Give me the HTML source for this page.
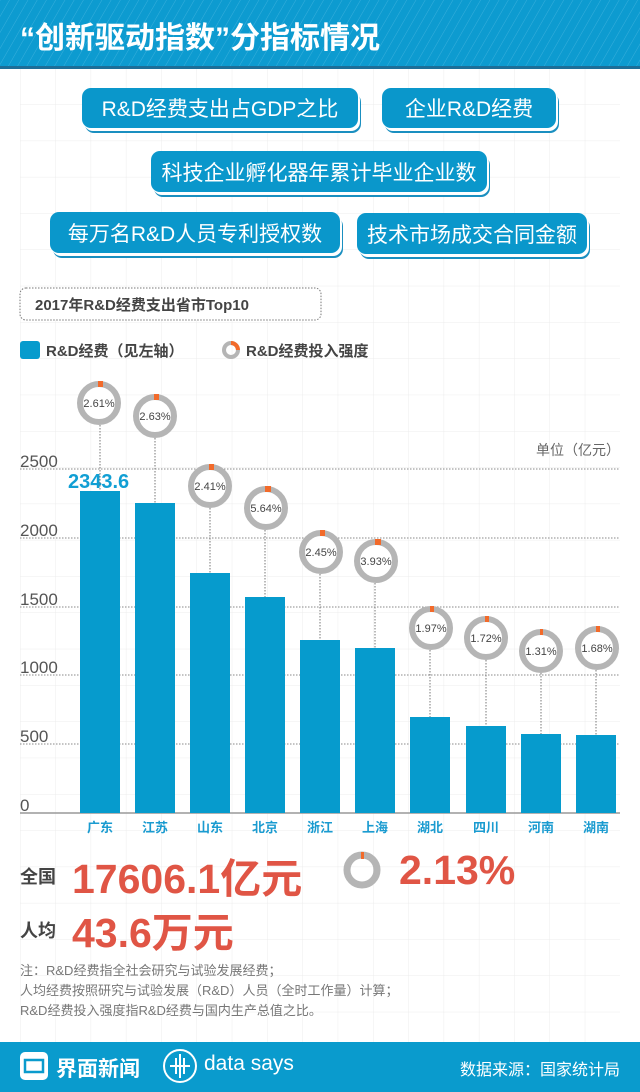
<!DOCTYPE html>
<html><head><meta charset="utf-8"><style>
*{margin:0;padding:0;box-sizing:border-box}
body{width:640px;height:1092px;position:relative;overflow:hidden;background:#fff;font-family:"Liberation Sans","Noto Sans CJK SC",sans-serif}
.abs{position:absolute}
.btn{position:absolute;background:#0a97cb;color:#fff;border-radius:9px;font-size:21px;display:flex;align-items:center;justify-content:center;box-shadow:2px 3px 0 #fff,3px 5px 0 #1a8fc0;white-space:nowrap}
.big{position:absolute;font-size:41px;font-weight:bold;color:#e05545;white-space:nowrap}
</style></head><body>
<svg class="abs" style="left:0;top:0" width="640" height="1092">
<defs>
<pattern id="g" x="20" y="68" width="35.3" height="36.3" patternUnits="userSpaceOnUse">
<path d="M0 0V36.3M0 0H35.3" stroke="#ececec" stroke-width="1" fill="none"/>
</pattern>
<pattern id="st" width="8" height="8" patternUnits="userSpaceOnUse" patternTransform="rotate(30)">
<rect width="8" height="8" fill="#0d9bd0"/><line x1="0" y1="0" x2="0" y2="8" stroke="#38afdc" stroke-width="1"/>
</pattern>
</defs>
<rect x="20" y="68" width="600" height="974" fill="url(#g)"/>
<rect x="0" y="0" width="640" height="67" fill="url(#st)"/>
<rect x="0" y="66" width="640" height="3" fill="#1d6e98"/>
<g stroke="#888" stroke-dasharray="1.5,1.5" stroke-width="1">
<line x1="20" y1="469" x2="620" y2="469"/><line x1="20" y1="538" x2="620" y2="538"/>
<line x1="20" y1="607" x2="620" y2="607"/><line x1="20" y1="675" x2="620" y2="675"/>
<line x1="20" y1="744" x2="620" y2="744"/>
</g>
<line x1="20" y1="813" x2="620" y2="813" stroke="#999" stroke-width="1.5"/>
<g font-size="17" fill="#555">
<text x="20" y="467">2500</text><text x="20" y="536">2000</text><text x="20" y="605">1500</text>
<text x="20" y="673">1000</text><text x="20" y="742">500</text><text x="20" y="811">0</text>
</g>
<text x="620" y="455" font-size="14" fill="#666" text-anchor="end">单位（亿元）</text>
<g fill="#069bcd">
<rect x="80" y="491" width="40" height="322"/><rect x="135" y="503" width="40" height="310"/>
<rect x="190" y="573" width="40" height="240"/><rect x="245" y="597" width="40" height="216"/>
<rect x="300" y="640" width="40" height="173"/><rect x="355" y="648" width="40" height="165"/>
<rect x="410" y="717" width="40" height="96"/><rect x="466" y="726" width="40" height="87"/>
<rect x="521" y="734" width="40" height="79"/><rect x="576" y="735" width="40" height="78"/>
</g>
<text x="68" y="488" font-size="20" font-weight="bold" fill="#119fd4">2343.6</text>
<g font-size="13" font-weight="bold" fill="#1a9bd0" text-anchor="middle">
<text x="100" y="832">广东</text><text x="155" y="832">江苏</text><text x="210" y="832">山东</text>
<text x="265" y="832">北京</text><text x="320" y="832">浙江</text><text x="375" y="832">上海</text>
<text x="430" y="832">湖北</text><text x="486" y="832">四川</text><text x="541" y="832">河南</text>
<text x="596" y="832">湖南</text>
</g>
<g stroke="#777" stroke-dasharray="1.5,1.5">
<line x1="100" y1="425" x2="100" y2="491"/><line x1="155" y1="438" x2="155" y2="503"/>
<line x1="210" y1="508" x2="210" y2="573"/><line x1="265" y1="530" x2="265" y2="597"/>
<line x1="320" y1="574" x2="320" y2="640"/><line x1="375" y1="583" x2="375" y2="648"/>
<line x1="430" y1="650" x2="430" y2="717"/><line x1="486" y1="660" x2="486" y2="726"/>
<line x1="541" y1="673" x2="541" y2="734"/><line x1="596" y1="670" x2="596" y2="735"/>
</g>
<g font-size="11" fill="#444" text-anchor="middle">
<g transform="translate(99,403)"><circle r="19" fill="#fff" stroke="#b5b5b5" stroke-width="6"/><rect x="-1" y="-22" width="5" height="6" fill="#f26a2a"/><text y="4">2.61%</text></g>
<g transform="translate(155,416)"><circle r="19" fill="#fff" stroke="#b5b5b5" stroke-width="6"/><rect x="-1" y="-22" width="5" height="6" fill="#f26a2a"/><text y="4">2.63%</text></g>
<g transform="translate(210,486)"><circle r="19" fill="#fff" stroke="#b5b5b5" stroke-width="6"/><rect x="-1" y="-22" width="5" height="6" fill="#f26a2a"/><text y="4">2.41%</text></g>
<g transform="translate(266,508)"><circle r="19" fill="#fff" stroke="#b5b5b5" stroke-width="6"/><rect x="-1" y="-22" width="6" height="6" fill="#f26a2a"/><text y="4">5.64%</text></g>
<g transform="translate(321,552)"><circle r="19" fill="#fff" stroke="#b5b5b5" stroke-width="6"/><rect x="-1" y="-22" width="5" height="6" fill="#f26a2a"/><text y="4">2.45%</text></g>
<g transform="translate(376,561)"><circle r="19" fill="#fff" stroke="#b5b5b5" stroke-width="6"/><rect x="-1" y="-22" width="6" height="6" fill="#f26a2a"/><text y="4">3.93%</text></g>
<g transform="translate(431,628)"><circle r="19" fill="#fff" stroke="#b5b5b5" stroke-width="6"/><rect x="-1" y="-22" width="4" height="6" fill="#f26a2a"/><text y="4">1.97%</text></g>
<g transform="translate(486,638)"><circle r="19" fill="#fff" stroke="#b5b5b5" stroke-width="6"/><rect x="-1" y="-22" width="4" height="6" fill="#f26a2a"/><text y="4">1.72%</text></g>
<g transform="translate(541,651)"><circle r="19" fill="#fff" stroke="#b5b5b5" stroke-width="6"/><rect x="-1" y="-22" width="3" height="6" fill="#f26a2a"/><text y="4">1.31%</text></g>
<g transform="translate(597,648)"><circle r="19" fill="#fff" stroke="#b5b5b5" stroke-width="6"/><rect x="-1" y="-22" width="4" height="6" fill="#f26a2a"/><text y="4">1.68%</text></g>
</g>
<rect x="20" y="341" width="20" height="18" rx="3" fill="#069bcd"/>
<circle cx="231" cy="350" r="7" fill="none" stroke="#b5b5b5" stroke-width="4"/>
<path d="M231 343 A7 7 0 0 1 238 350" fill="none" stroke="#f26a2a" stroke-width="4"/>
<rect x="20" y="288" width="301" height="32" rx="6" fill="#fff" stroke="#777" stroke-dasharray="1.5,1.5"/>
<circle cx="362" cy="870" r="15" fill="none" stroke="#b5b5b5" stroke-width="7"/>
<rect x="361" y="852" width="3" height="7" fill="#f26a2a"/>
<rect x="0" y="1042" width="640" height="50" fill="#0a9bcd"/>
<rect x="20" y="1052" width="28" height="28" rx="5" fill="#fff"/>
<rect x="25" y="1060" width="18" height="12" fill="none" stroke="#0a9bcd" stroke-width="2.5"/>
<circle cx="180" cy="1066" r="16" fill="none" stroke="#fff" stroke-width="2"/>
<path d="M170 1066H190M176 1058V1074M180 1054V1078M184 1058V1074" stroke="#fff" stroke-width="2"/>
</svg>
<div class="abs" style="left:20px;top:13px;color:#fff;font-size:30px;font-weight:bold;white-space:nowrap">“创新驱动指数”分指标情况</div>
<div class="btn" style="left:82px;top:88px;width:276px;height:40px">R&amp;D经费支出占GDP之比</div>
<div class="btn" style="left:382px;top:88px;width:174px;height:40px">企业R&amp;D经费</div>
<div class="btn" style="left:151px;top:151px;width:336px;height:41px">科技企业孵化器年累计毕业企业数</div>
<div class="btn" style="left:50px;top:212px;width:290px;height:41px">每万名R&amp;D人员专利授权数</div>
<div class="btn" style="left:357px;top:213px;width:230px;height:41px">技术市场成交合同金额</div>
<div class="abs" style="left:35px;top:294px;font-size:15px;font-weight:bold;color:#444">2017年R&amp;D经费支出省市Top10</div>
<div class="abs" style="left:46px;top:340px;font-size:15px;font-weight:bold;color:#444">R&amp;D经费（见左轴）</div>
<div class="abs" style="left:246px;top:340px;font-size:15px;font-weight:bold;color:#444">R&amp;D经费投入强度</div>
<div class="abs" style="left:20px;top:863px;font-size:18px;font-weight:bold;color:#444">全国</div>
<div class="big" style="left:72px;top:845px">17606.1亿元</div>
<div class="big" style="left:399px;top:847px">2.13%</div>
<div class="abs" style="left:20px;top:917px;font-size:18px;font-weight:bold;color:#444">人均</div>
<div class="big" style="left:72px;top:899px">43.6万元</div>
<div class="abs" style="left:20px;top:961px;font-size:13px;line-height:20px;color:#777">注：R&amp;D经费指全社会研究与试验发展经费；<br>人均经费按照研究与试验发展（R&amp;D）人员（全时工作量）计算；<br>R&amp;D经费投入强度指R&amp;D经费与国内生产总值之比。</div>
<div class="abs" style="left:56px;top:1053px;font-size:21px;font-weight:bold;color:#fff">界面新闻</div>
<div class="abs" style="left:204px;top:1052px;font-size:21px;color:#fff">data says</div>
<div class="abs" style="right:20px;top:1056px;font-size:16px;color:#fff">数据来源：国家统计局</div>
</body></html>
